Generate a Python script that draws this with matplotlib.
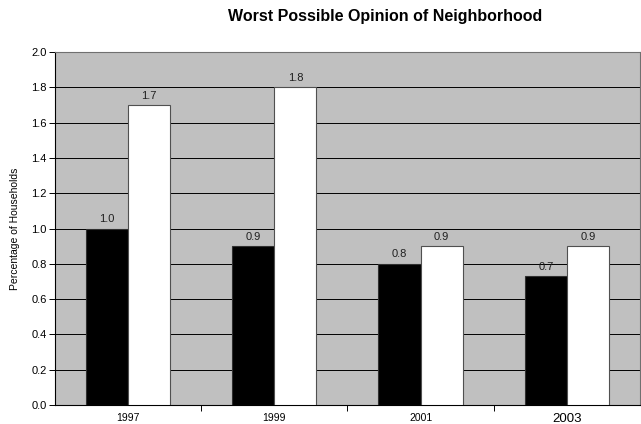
import matplotlib.pyplot as plt
import numpy as np

plt.rcParams["font.family"] = ["Liberation Sans", "DejaVu Sans"]

# Survey years and the two household series
years = ["1997", "1999", "2001", "2003"]
series_a = [1.0, 0.9, 0.8, 0.73]
series_b = [1.7, 1.8, 0.9, 0.9]

fig = plt.figure(figsize=(6.41, 4.24), dpi=100)
ax = fig.add_axes([0.0858, 0.0448, 0.9126, 0.8325])
ax.set_facecolor("#C0C0C0")

x = np.arange(len(years))
w = 0.288
bars_a = ax.bar(x - w / 2, series_a, w, color="black", edgecolor="#303030", linewidth=0.8, zorder=3)
bars_b = ax.bar(x + w / 2, series_b, w, color="white", edgecolor="#505050", linewidth=0.8, zorder=3)

for bars in (bars_a, bars_b):
    for b in bars:
        h = b.get_height()
        ax.text(b.get_x() + b.get_width() / 2, h + 0.025, f"{h:.1f}",
                ha="center", va="bottom", fontsize=8, color="#202020")

ax.set_xlim(-0.5, len(years) - 0.5)
ax.set_ylim(0, 2.0)
ax.set_yticks(np.arange(0, 2.01, 0.2))
ax.set_yticklabels([f"{v:.1f}" for v in np.arange(0, 2.01, 0.2)], fontsize=8)
ax.yaxis.grid(True, color="black", linewidth=0.7, zorder=0)
ax.set_axisbelow(True)

# category labels centred, tick marks between categories
ax.set_xticks(x)
ax.set_xticklabels(years, fontsize=7.5)
for lab in ax.get_xticklabels()[-1:]:
    lab.set_fontsize(9.5)
ax.tick_params(axis="x", length=0, pad=6)
ax.set_xticks(x[:-1] + 0.5, minor=True)
ax.tick_params(axis="x", which="minor", length=4, width=0.7, direction="out")
ax.tick_params(axis="y", length=4, width=0.7, direction="out", pad=2)

for s in ("left", "bottom"):
    ax.spines[s].set_color("black")
    ax.spines[s].set_linewidth(0.8)
for s in ("top", "right"):
    ax.spines[s].set_color("#707070")
    ax.spines[s].set_linewidth(0.8)

ax.set_ylabel("Percentage of Households", fontsize=7.5, labelpad=8)
fig.text(0.601, 0.962, "Worst Possible Opinion of Neighborhood",
         ha="center", va="center", fontsize=11.5, fontweight="bold")

fig.savefig("out.png", dpi=100)
